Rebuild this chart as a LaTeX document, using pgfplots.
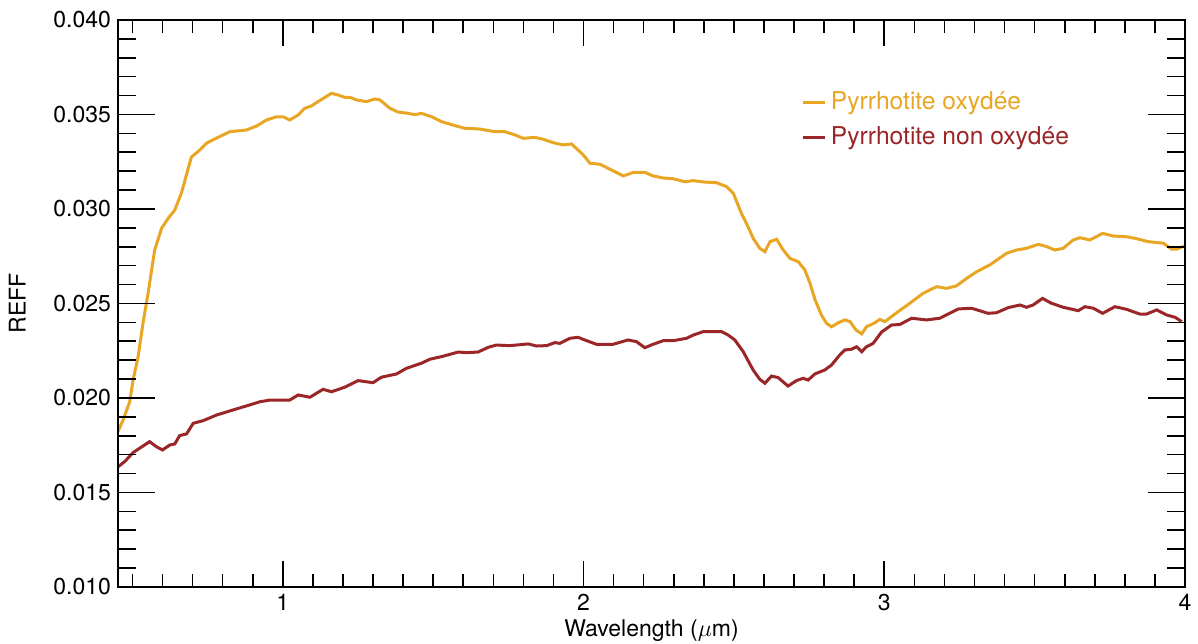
\documentclass[border=0pt]{standalone}
\usepackage{pgfplots}
\pgfplotsset{compat=1.18}
\usepackage{fontspec}
\setmainfont{TeX Gyre Heros}
\definecolor{orangeC}{RGB}{232,166,36}
\definecolor{redC}{RGB}{155,38,40}

\begin{document}
\begin{tikzpicture}
\pgfplotsset{
  common/.style={
    scale only axis, width=533.5pt, height=283.5pt,
    xmin=0.452, xmax=4.0, ymin=0.010, ymax=0.040,
    axis line style={line width=0.8pt},
    every tick/.style={black, line width=0.8pt},
    tick align=inside,
    font=\fontsize{11.5}{13}\selectfont,
    /pgf/number format/assume math mode=true,
  }
}
% axis carrying the data and the x ticks
\begin{axis}[common, name=ax,
  xtick={1,2,3,4},
  minor xtick={0.5,0.6,0.7,0.8,0.9,1.1,1.2,1.3,1.4,1.5,1.6,1.7,1.8,1.9,2.1,2.2,2.3,2.4,2.5,2.6,2.7,2.8,2.9,3.1,3.2,3.3,3.4,3.5,3.6,3.7,3.8,3.9},
  ytick=\empty,
  major tick length=13pt, minor tick length=6.5pt,
  xlabel={Wavelength ($\mu$m)},
  xlabel style={yshift=2.5pt},
  legend style={draw=none, fill=none, at={(0.635,0.888)}, anchor=north west,
     cells={anchor=west}, row sep=3pt, font=\fontsize{12.3}{14}\selectfont},
  legend image code/.code={\draw[#1] (0pt,0pt) -- (11pt,0pt);},
]
\addplot[orangeC, line width=1.5pt] coordinates {
(0.452,0.01822) (0.469,0.01884) (0.491,0.01980) (0.502,0.02095) (0.519,0.02219)
(0.535,0.02395) (0.552,0.02554) (0.574,0.02783) (0.597,0.02898) (0.619,0.02951)
(0.641,0.02995) (0.663,0.03085) (0.696,0.03275) (0.724,0.03312) (0.746,0.03348)
(0.790,0.03383) (0.824,0.03409) (0.879,0.03418) (0.913,0.03439) (0.946,0.03471)
(0.979,0.03488) (1.001,0.03488) (1.023,0.03471) (1.051,0.03497) (1.073,0.03533)
(1.095,0.03545) (1.117,0.03568) (1.162,0.03612) (1.184,0.03603) (1.206,0.03591)
(1.223,0.03591) (1.245,0.03577) (1.278,0.03568) (1.306,0.03582) (1.323,0.03577)
(1.356,0.03533) (1.383,0.03513) (1.417,0.03506) (1.439,0.03499) (1.461,0.03506)
(1.495,0.03488) (1.528,0.03462) (1.566,0.03444) (1.605,0.03427) (1.655,0.03423)
(1.705,0.03409) (1.738,0.03409) (1.772,0.03392) (1.799,0.03374) (1.838,0.03379)
(1.866,0.03369) (1.899,0.03351) (1.932,0.03339) (1.960,0.03344) (1.988,0.03303)
(2.004,0.03277) (2.021,0.03242) (2.054,0.03237) (2.093,0.03206) (2.132,0.03175)
(2.165,0.03193) (2.204,0.03194) (2.231,0.03175) (2.265,0.03164) (2.298,0.03160)
(2.337,0.03144) (2.365,0.03150) (2.398,0.03143) (2.442,0.03139) (2.476,0.03118)
(2.498,0.03083) (2.525,0.02977) (2.547,0.02906) (2.564,0.02845) (2.586,0.02792)
(2.603,0.02774) (2.620,0.02827) (2.642,0.02840) (2.664,0.02783) (2.686,0.02739)
(2.714,0.02721) (2.736,0.02677) (2.753,0.02607) (2.770,0.02519) (2.791,0.02439)
(2.808,0.02395) (2.825,0.02377) (2.847,0.02398) (2.869,0.02413) (2.886,0.02404)
(2.906,0.02360) (2.925,0.02339) (2.941,0.02377) (2.969,0.02398) (2.985,0.02416)
(3.002,0.02404) (3.041,0.02451) (3.085,0.02501) (3.129,0.02554) (3.174,0.02589)
(3.207,0.02580) (3.240,0.02593) (3.274,0.02633) (3.307,0.02668) (3.351,0.02704)
(3.407,0.02766) (3.440,0.02783) (3.473,0.02792) (3.512,0.02813) (3.540,0.02801)
(3.567,0.02783) (3.595,0.02792) (3.628,0.02836) (3.651,0.02848) (3.684,0.02836)
(3.726,0.02871) (3.761,0.02857) (3.806,0.02853) (3.839,0.02843) (3.878,0.02827)
(3.928,0.02819) (3.956,0.02787) (3.972,0.02787) (3.997,0.02804)
};
\addlegendentry{\textcolor{orangeC}{Pyrrhotite oxydée}}
\addplot[redC, line width=1.5pt] coordinates {
(0.452,0.01636) (0.474,0.01663) (0.502,0.01711) (0.524,0.01734) (0.557,0.01769)
(0.580,0.01742) (0.600,0.01725) (0.624,0.01751) (0.641,0.01757) (0.657,0.01801)
(0.680,0.01810) (0.702,0.01866) (0.735,0.01880) (0.780,0.01910) (0.835,0.01937)
(0.879,0.01958) (0.924,0.01980) (0.957,0.01989) (0.990,0.01989) (1.023,0.01989)
(1.051,0.02016) (1.090,0.02004) (1.134,0.02046) (1.162,0.02033) (1.206,0.02057)
(1.250,0.02092) (1.300,0.02081) (1.328,0.02110) (1.378,0.02127) (1.411,0.02157)
(1.461,0.02184) (1.489,0.02205) (1.533,0.02221) (1.583,0.02243) (1.611,0.02240)
(1.649,0.02243) (1.683,0.02268) (1.710,0.02280) (1.755,0.02277) (1.816,0.02286)
(1.844,0.02275) (1.877,0.02277) (1.905,0.02293) (1.921,0.02289) (1.955,0.02316)
(1.982,0.02321) (2.004,0.02307) (2.043,0.02284) (2.098,0.02284) (2.148,0.02307)
(2.176,0.02298) (2.204,0.02266) (2.231,0.02284) (2.265,0.02303) (2.298,0.02303)
(2.343,0.02316) (2.365,0.02333) (2.398,0.02351) (2.431,0.02351) (2.459,0.02351)
(2.481,0.02333) (2.503,0.02307) (2.531,0.02245) (2.564,0.02148) (2.586,0.02099)
(2.603,0.02078) (2.625,0.02116) (2.647,0.02108) (2.680,0.02063) (2.708,0.02092)
(2.730,0.02104) (2.747,0.02095) (2.769,0.02127) (2.802,0.02148) (2.825,0.02175)
(2.852,0.02228) (2.869,0.02254) (2.891,0.02258) (2.908,0.02271) (2.925,0.02245)
(2.941,0.02271) (2.963,0.02289) (2.991,0.02349) (3.024,0.02386) (3.052,0.02389)
(3.091,0.02422) (3.140,0.02413) (3.185,0.02422) (3.246,0.02471) (3.290,0.02475)
(3.345,0.02448) (3.373,0.02451) (3.412,0.02478) (3.451,0.02492) (3.473,0.02480)
(3.495,0.02492) (3.526,0.02527) (3.556,0.02501) (3.595,0.02480) (3.645,0.02462)
(3.667,0.02483) (3.695,0.02475) (3.726,0.02448) (3.767,0.02483) (3.806,0.02469)
(3.850,0.02444) (3.872,0.02444) (3.906,0.02466) (3.939,0.02439) (3.967,0.02427)
(3.989,0.02404)
};
\addlegendentry{\textcolor{redC}{Pyrrhotite non oxydée}}
\end{axis}
% overlay axis carrying the y ticks
\begin{axis}[common,
  xtick=\empty,
  ytick={0.010,0.015,0.020,0.025,0.030,0.035,0.040},
  minor ytick={0.011,0.012,0.013,0.014,0.016,0.017,0.018,0.019,0.021,0.022,0.023,0.024,0.026,0.027,0.028,0.029,0.031,0.032,0.033,0.034,0.036,0.037,0.038,0.039},
  major tick length=18.5pt, minor tick length=9pt,
  scaled y ticks=false,
  yticklabel style={/pgf/number format/.cd, fixed, fixed zerofill, precision=3},
  ylabel={REFF},
  ylabel shift=7pt,
]
\end{axis}
\pgfresetboundingbox
\path[use as bounding box] ([shift={(-59pt,-28.5pt)}]ax.south west) rectangle ([shift={(6.5pt,10pt)}]ax.north east);
\end{tikzpicture}
\end{document}
